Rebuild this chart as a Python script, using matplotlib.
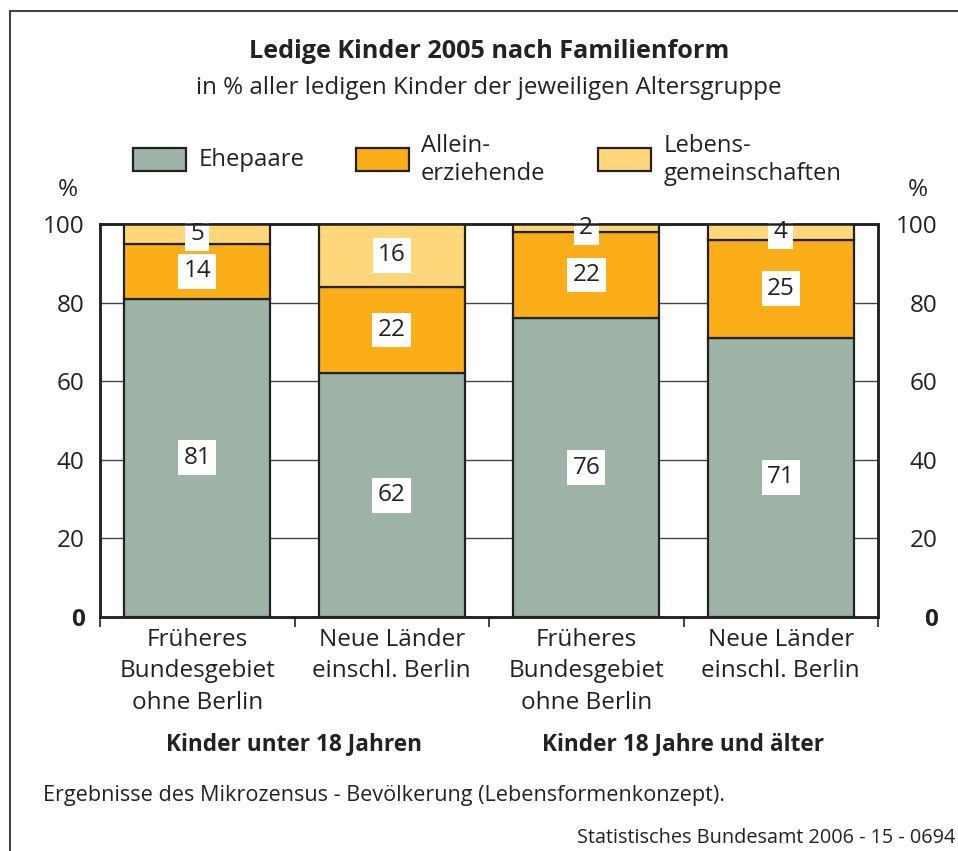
import matplotlib.pyplot as plt
from matplotlib.lines import Line2D
import numpy as np

plt.rcParams['font.family'] = ['Open Sans', 'DejaVu Sans']

categories = ["Früheres\nBundesgebiet\nohne Berlin", "Neue Länder\neinschl. Berlin",
              "Früheres\nBundesgebiet\nohne Berlin", "Neue Länder\neinschl. Berlin"]
groups = ["Kinder unter 18 Jahren", "Kinder 18 Jahre und älter"]
ehepaare = [81, 62, 76, 71]
alleinerziehende = [14, 22, 22, 25]
lebensgemeinschaften = [5, 16, 2, 4]
series_names = ["Ehepaare", "Allein-\nerziehende", "Lebens-\ngemeinschaften"]
yticks = [0, 20, 40, 60, 80, 100]
colors = ["#9db3a6", "#fbae17", "#ffd77a"]
ink = "#222222"

fig = plt.figure(figsize=(9.58, 8.51), dpi=100)
ax = fig.add_axes([100 / 958, 1 - 617 / 851, 778 / 958, 393 / 851])

x = np.arange(len(categories))
bottom = np.zeros(len(categories))
for vals, col in zip([ehepaare, alleinerziehende, lebensgemeinschaften], colors):
    vals = np.array(vals, dtype=float)
    ax.bar(x, vals, width=0.75, bottom=bottom, color=col, edgecolor=ink,
           linewidth=1.6, zorder=3)
    for xi, b, v in zip(x, bottom, vals):
        ax.text(xi, b + v / 2, f"{int(v)}", ha="center", va="center", fontsize=17.5,
                color=ink, zorder=5,
                bbox=dict(boxstyle="square,pad=0.22", fc="white", ec="none"))
    bottom += vals

ax.set_xlim(-0.5, 3.5)
ax.set_ylim(0, 100)
ax.set_yticks(yticks)
ax.set_yticklabels([str(v) for v in yticks])
ax.yaxis.grid(True, color="#444444", linewidth=1.0, zorder=0)
ax.set_axisbelow(True)
ax.tick_params(axis="y", length=0, labelsize=17.5, labelcolor=ink, pad=11)

ax2 = ax.twinx()
ax2.set_ylim(0, 100)
ax2.set_yticks(yticks)
ax2.set_yticklabels([str(v) for v in yticks], ha="right")
ax2.tick_params(axis="y", length=0, labelsize=17.5, labelcolor=ink, pad=43)

for a in (ax, ax2):
    for lab in a.get_yticklabels():
        if lab.get_text() == "0":
            lab.set_fontweight("bold")

ax.set_xticks([-0.5, 0.5, 1.5, 2.5, 3.5])
ax.set_xticklabels([])
ax.tick_params(axis="x", which="major", length=7, width=1.2, color=ink)
ax.set_xticks(x, minor=True)
ax.set_xticklabels(categories, minor=True, fontsize=17.5, color=ink, linespacing=1.4)
ax.tick_params(axis="x", which="minor", length=0, pad=8)

for a in (ax, ax2):
    for s in a.spines.values():
        s.set_color(ink)
        s.set_linewidth(1.8)

# group labels
for i, g in enumerate(groups):
    ax.text(0.5 + 2 * i, -0.322, g, transform=ax.get_xaxis_transform(), ha="center",
            va="center", fontsize=16.3, fontweight="bold", color=ink)

# titles
fig.text(489 / 958, 1 - 52 / 851, "Ledige Kinder 2005 nach Familienform", ha="center",
         va="center", fontsize=18.2, fontweight="bold", color=ink)
fig.text(489 / 958, 1 - 88 / 851, "in % aller ledigen Kinder der jeweiligen Altersgruppe",
         ha="center", va="center", fontsize=17.4, color=ink)

# legend
for px, tx, name, col in zip([133, 356, 598], [199, 421, 664], series_names, colors):
    fig.patches.append(plt.Rectangle((px / 958, 1 - 171 / 851), 53 / 958, 23 / 851,
                                     transform=fig.transFigure, fc=col, ec=ink, lw=1.6))
    fig.text(tx / 958, 1 - 160 / 851, name, ha="left", va="center", fontsize=17.2,
             color=ink, linespacing=1.18)

fig.text(68 / 958, 1 - 190 / 851, "%", ha="center", va="center", fontsize=17.5, color=ink)
fig.text(918 / 958, 1 - 190 / 851, "%", ha="center", va="center", fontsize=17.5, color=ink)

fig.text(43 / 958, 1 - 796 / 851,
         "Ergebnisse des Mikrozensus - Bevölkerung (Lebensformenkonzept).",
         ha="left", va="center", fontsize=15.6, color=ink)
fig.text(955 / 958, 1 - 838 / 851, "Statistisches Bundesamt 2006 - 15 - 0694",
         ha="right", va="center", fontsize=14.3, color=ink)

# frame
fig.add_artist(Line2D([10 / 958, 10 / 958], [0, 1 - 11 / 851], color="#444444", lw=1.5))
fig.add_artist(Line2D([10 / 958, 1], [1 - 11 / 851, 1 - 11 / 851], color="#444444", lw=1.5))

fig.savefig("out.png", dpi=100, facecolor="white")
